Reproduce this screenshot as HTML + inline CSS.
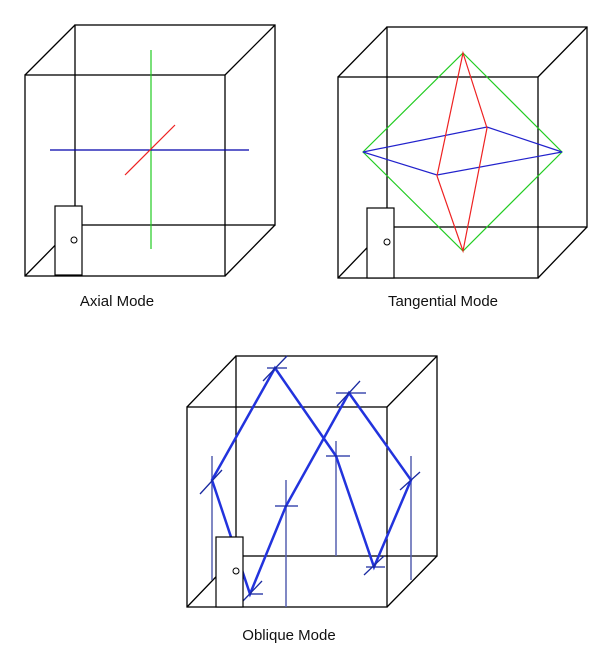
<!DOCTYPE html><html><head><style>body{margin:0;background:#fff}svg{display:block}text{font-family:"Liberation Sans",sans-serif;font-size:15px;fill:#111}</style></head><body>
<svg width="612" height="650" viewBox="0 0 612 650">
<g fill="none" stroke="#000" stroke-width="1.3">
<rect x="25" y="75" width="200" height="201"/><rect x="75" y="25" width="200" height="200"/>
<path d="M25 75L75 25M225 75L275 25M225 276L275 225M25 276L75 225"/>
</g>
<line x1="151" y1="50" x2="151" y2="249" stroke="#2c2" stroke-width="1.2"/>
<line x1="50" y1="150" x2="249" y2="150" stroke="#00a" stroke-width="1.2"/>
<line x1="125" y1="175" x2="175" y2="125" stroke="#e22" stroke-width="1.2"/>
<rect x="55" y="206" width="27" height="69" fill="#fff" stroke="#000" stroke-width="1.2"/><circle cx="74" cy="240" r="3" fill="none" stroke="#000"/>
<text x="117" y="306" text-anchor="middle">Axial Mode</text>

<g fill="none" stroke="#000" stroke-width="1.3">
<rect x="338" y="77" width="200" height="201"/><rect x="387" y="27" width="200" height="200"/>
<path d="M338 77L387 27M538 77L587 27M538 278L587 227M338 278L387 227"/>
</g>
<path d="M463 53L562 152L463 251L363 152Z" fill="none" stroke="#2c2" stroke-width="1.2"/>
<path d="M363 152L487 127L562 152L437 175Z" fill="none" stroke="#22c" stroke-width="1.2"/>
<path d="M463 53L487 128L463 251L437 176Z" fill="none" stroke="#e22" stroke-width="1.2"/>
<rect x="367" y="208" width="27" height="70" fill="#fff" stroke="#000" stroke-width="1.2"/><circle cx="387" cy="242" r="3" fill="none" stroke="#000"/>
<text x="443" y="306" text-anchor="middle">Tangential Mode</text>

<g fill="none" stroke="#000" stroke-width="1.3">
<rect x="187" y="407" width="200" height="200"/><rect x="236" y="356" width="201" height="200"/>
<path d="M187 407L236 356M387 407L437 356M387 607L437 556M187 607L236 556"/>
</g>
<g stroke="#5560b0" stroke-width="1.5">
<line x1="212" y1="456" x2="212" y2="580"/><line x1="286" y1="480" x2="286" y2="607"/><line x1="336" y1="441" x2="336" y2="556"/><line x1="411" y1="456" x2="411" y2="580"/>
</g>
<path d="M212 480L275 368L336 456L374 567L411 480L349 393L286 506L250 594Z" fill="none" stroke="#2233dd" stroke-width="2.5" stroke-linejoin="miter"/>
<g stroke="#1a2aa0" stroke-width="1.3">
<line x1="267" y1="368" x2="287" y2="368"/><line x1="263" y1="381" x2="287" y2="356"/>
<line x1="336" y1="393" x2="366" y2="393"/><line x1="337" y1="406" x2="360" y2="381"/>
<line x1="326" y1="456" x2="350" y2="456"/>
<line x1="275" y1="506" x2="298" y2="506"/>
<line x1="366" y1="567" x2="385" y2="567"/><line x1="364" y1="575" x2="384" y2="556"/>
<line x1="250" y1="594" x2="263" y2="594"/><line x1="243" y1="601" x2="262" y2="581"/>
<line x1="200" y1="494" x2="222" y2="470"/><line x1="400" y1="490" x2="420" y2="472"/>
</g>
<rect x="216" y="537" width="27" height="70" fill="#fff" stroke="#000" stroke-width="1.2"/><circle cx="236" cy="571" r="3" fill="none" stroke="#000"/>
<text x="289" y="640" text-anchor="middle">Oblique Mode</text>
</svg></body></html>
